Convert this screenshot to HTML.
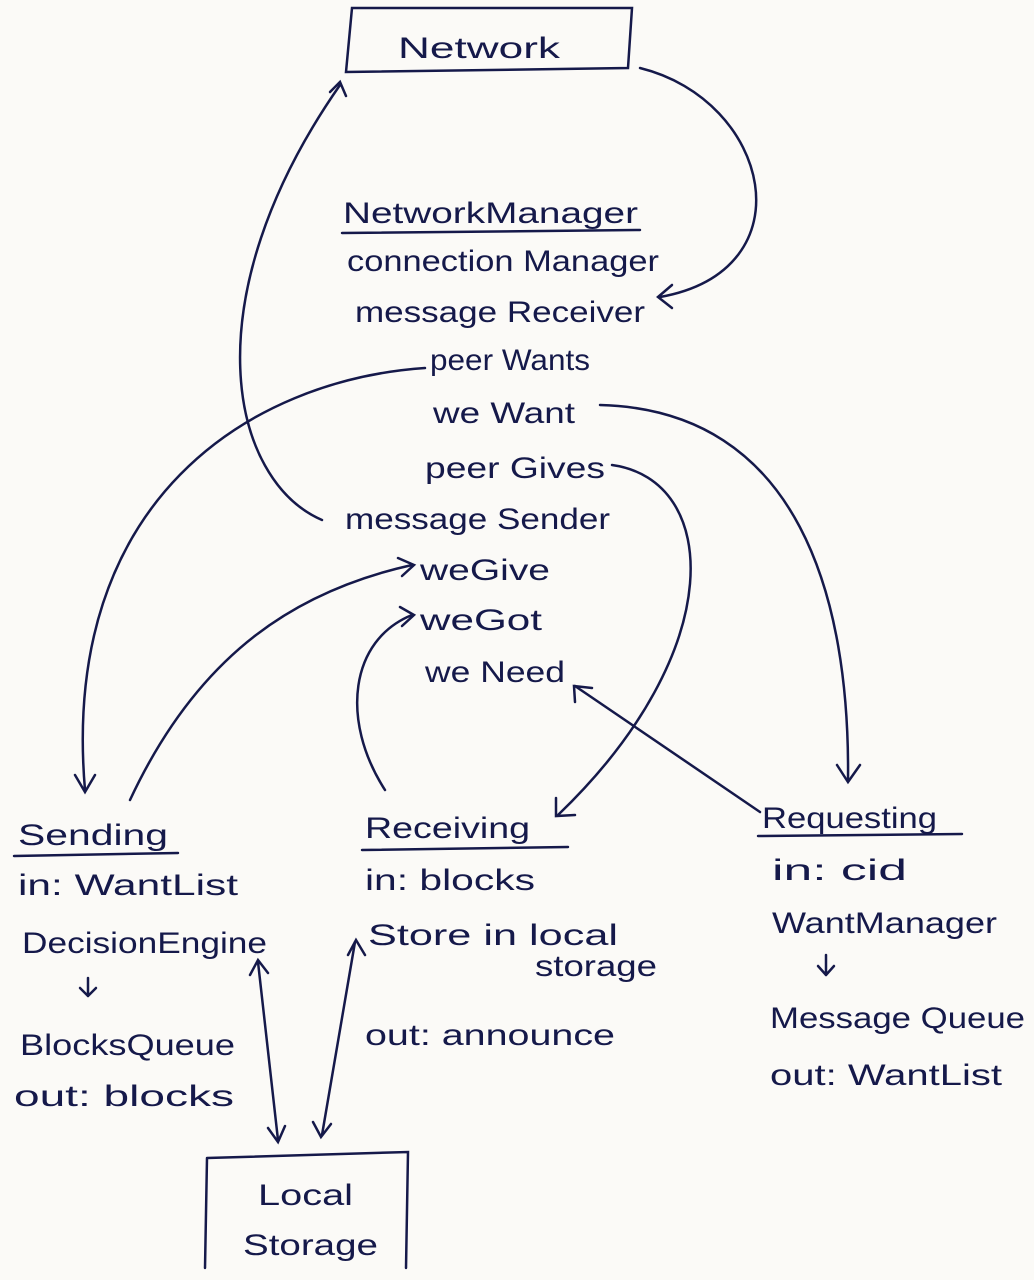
<!DOCTYPE html>
<html><head><meta charset="utf-8"><style>
html,body{margin:0;padding:0;background:#fbfaf7;}
svg{display:block}
text{font-family:"Liberation Sans",sans-serif;fill:#15194a;font-size:30px;}
</style></head><body>
<svg width="1034" height="1280" viewBox="0 0 1034 1280">
<rect width="1034" height="1280" fill="#fbfaf7"/>
<g fill="none" stroke="#15194a" stroke-width="2.5" stroke-linecap="round">
<path d="M352,8 L632,8 L628,68 L346,72 Z"/>
<path d="M207,1158 L408,1152 L406,1268 M207,1158 L205,1268"/>
<path d="M342,233 L640,230"/>
<path d="M14,856 L178,853"/>
<path d="M362,850 L568,847"/>
<path d="M758,836 L962,834"/>
<path d="M322,520 C230,480 190,300 340,85"/>
<path d="M330,92 L340,82 L346,96"/>
<path d="M640,68 C770,100 810,270 660,297"/>
<path d="M672,285 L658,297 L672,308"/>
<path d="M425,368 C250,380 60,500 85,790"/>
<path d="M75,775 L85,792 L95,775"/>
<path d="M600,405 C800,410 850,600 848,780"/>
<path d="M837,765 L848,782 L860,765"/>
<path d="M612,465 C720,480 730,650 558,815"/>
<path d="M556,798 L556,816 L575,815"/>
<path d="M130,800 C200,650 300,590 412,565"/>
<path d="M398,558 L414,565 L402,576"/>
<path d="M385,790 C340,720 350,640 412,615"/>
<path d="M400,607 L414,615 L402,626"/>
<path d="M760,812 L575,686"/>
<path d="M575,702 L574,686 L592,688"/>
<path d="M258,962 L278,1140"/>
<path d="M250,975 L258,960 L268,973"/>
<path d="M268,1128 L278,1142 L285,1126"/>
<path d="M355,942 L322,1135"/>
<path d="M348,955 L356,940 L365,955"/>
<path d="M313,1122 L321,1137 L331,1124"/>
<path d="M88,978 L88,996 M80,988 L88,996 M96,988 L88,996"/>
<path d="M826,955 L826,975 M818,966 L826,975 M834,966 L826,975"/>
</g>
<g lengthAdjust="spacingAndGlyphs">
<text x="398" y="58" font-size="38" textLength="162" lengthAdjust="spacingAndGlyphs">Network</text>
<text x="343" y="223" textLength="295" lengthAdjust="spacingAndGlyphs">NetworkManager</text>
<text x="347" y="271" textLength="312" lengthAdjust="spacingAndGlyphs">connection Manager</text>
<text x="355" y="322" textLength="290" lengthAdjust="spacingAndGlyphs">message Receiver</text>
<text x="430" y="370" textLength="160" lengthAdjust="spacingAndGlyphs">peer Wants</text>
<text x="433" y="423" textLength="142" lengthAdjust="spacingAndGlyphs">we Want</text>
<text x="425" y="478" textLength="180" lengthAdjust="spacingAndGlyphs">peer Gives</text>
<text x="345" y="529" textLength="265" lengthAdjust="spacingAndGlyphs">message Sender</text>
<text x="420" y="580" textLength="130" lengthAdjust="spacingAndGlyphs">weGive</text>
<text x="420" y="630" textLength="122" lengthAdjust="spacingAndGlyphs">weGot</text>
<text x="425" y="682" textLength="140" lengthAdjust="spacingAndGlyphs">we Need</text>
<text x="18" y="845" textLength="150" lengthAdjust="spacingAndGlyphs">Sending</text>
<text x="18" y="895" textLength="220" lengthAdjust="spacingAndGlyphs">in: WantList</text>
<text x="22" y="953" textLength="245" lengthAdjust="spacingAndGlyphs">DecisionEngine</text>
<text x="20" y="1055" textLength="215" lengthAdjust="spacingAndGlyphs">BlocksQueue</text>
<text x="14" y="1106" textLength="220" lengthAdjust="spacingAndGlyphs">out: blocks</text>
<text x="365" y="838" textLength="165" lengthAdjust="spacingAndGlyphs">Receiving</text>
<text x="365" y="890" textLength="170" lengthAdjust="spacingAndGlyphs">in: blocks</text>
<text x="368" y="945" textLength="250" lengthAdjust="spacingAndGlyphs">Store in local</text>
<text x="535" y="976" textLength="122" lengthAdjust="spacingAndGlyphs">storage</text>
<text x="365" y="1045" textLength="250" lengthAdjust="spacingAndGlyphs">out: announce</text>
<text x="762" y="828" textLength="175" lengthAdjust="spacingAndGlyphs">Requesting</text>
<text x="772" y="880" textLength="135" lengthAdjust="spacingAndGlyphs">in: cid</text>
<text x="772" y="933" textLength="225" lengthAdjust="spacingAndGlyphs">WantManager</text>
<text x="770" y="1028" textLength="255" lengthAdjust="spacingAndGlyphs">Message Queue</text>
<text x="770" y="1085" textLength="232" lengthAdjust="spacingAndGlyphs">out: WantList</text>
<text x="258" y="1205" textLength="95" lengthAdjust="spacingAndGlyphs">Local</text>
<text x="243" y="1255" textLength="135" lengthAdjust="spacingAndGlyphs">Storage</text>
</g>
</svg>
</body></html>
